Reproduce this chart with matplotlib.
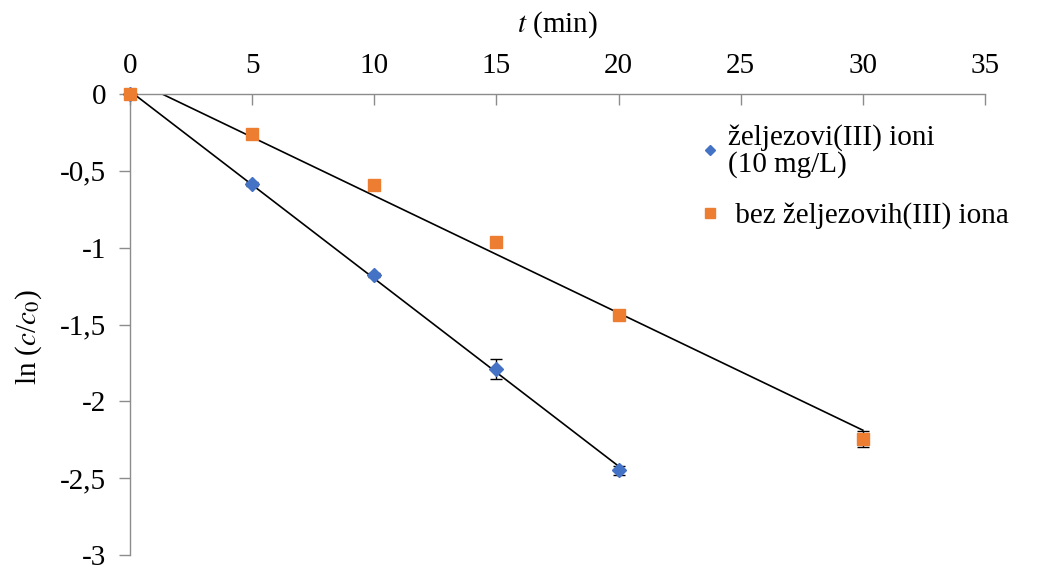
import numpy as np
import matplotlib.pyplot as plt
from matplotlib.ticker import FixedLocator, FixedFormatter

plt.rcParams['font.family'] = ['Liberation Serif', 'DejaVu Serif']
plt.rcParams['mathtext.fontset'] = 'stix'

# data
t_fe = [0, 5, 10, 15, 20]
ln_fe = [0, -0.587, -1.18, -1.79, -2.45]
err_fe = [0, 0.012, 0.012, 0.065, 0.03]

t_bez = [0, 5, 10, 15, 20, 30]
ln_bez = [0, -0.26, -0.59, -0.965, -1.44, -2.245]
err_bez = [0, 0.0, 0.0, 0.0, 0.0, 0.05]

x_ticks = [0, 5, 10, 15, 20, 25, 30, 35]
y_ticks = [0, -0.5, -1, -1.5, -2, -2.5, -3]
y_labels = ['0', '-0,5', '-1', '-1,5', '-2', '-2,5', '-3']

label_fe = 'željezovi(III) ioni\n(10 mg/L)'
label_bez = ' bez željezovih(III) iona'

blue = '#4472C4'
orange = '#ED7D31'
grey = '#8c8c8c'

fig = plt.figure(figsize=(10.48, 5.68), dpi=100)
ax = fig.add_axes([130/1048, 1 - 555/568, 855/1048, 461/568])

# linear trendlines (least squares), clipped by the axes
for t, y in [(t_fe, ln_fe), (t_bez, ln_bez)]:
    k, n = np.polyfit(t, y, 1)
    xx = np.array([min(t), max(t)])
    ax.plot(xx, k * xx + n, color='black', lw=1.2, zorder=2)

ax.errorbar(t_fe, ln_fe, yerr=err_fe, fmt='none', ecolor='black', elinewidth=1,
            capsize=4, zorder=3, clip_on=False)
ax.errorbar(t_bez, ln_bez, yerr=err_bez, fmt='none', ecolor='black', elinewidth=1,
            capsize=4, zorder=3, clip_on=False)
h1, = ax.plot(t_fe, ln_fe, 'D', color=blue, ms=7, ls='none', zorder=4, clip_on=False)
h2, = ax.plot(t_bez, ln_bez, 's', color=orange, ms=9, ls='none', zorder=4, clip_on=False)

ax.set_xlim(0, 35)
ax.set_ylim(-3, 0)

ax.xaxis.tick_top()
ax.xaxis.set_label_position('top')
ax.set_xticks(x_ticks)
ax.yaxis.set_major_locator(FixedLocator(y_ticks))
ax.yaxis.set_major_formatter(FixedFormatter(y_labels))

ax.tick_params(axis='x', direction='in', length=8, width=1, color=grey,
               labelsize=21, pad=11)
ax.tick_params(axis='y', direction='out', length=8, width=1, color=grey,
               labelsize=21, pad=9)

for s in ['bottom', 'right']:
    ax.spines[s].set_visible(False)
for s in ['top', 'left']:
    ax.spines[s].set_color(grey)
    ax.spines[s].set_linewidth(1)

ax.set_xlabel(r'$t$ (min)', fontsize=21, labelpad=15)
ax.set_ylabel(r'ln ($c$/$c_0$)', fontsize=21)
ax.yaxis.set_label_coords(-0.101, 0.473)

leg = fig.legend([h1, h2], [label_fe, label_bez], loc='upper left',
                 bbox_to_anchor=(690/1048, 1 - 112/568), frameon=False, fontsize=21,
                 handlelength=0.6, handletextpad=0.3, labelspacing=0.85,
                 borderaxespad=0, markerscale=0.8)
for txt in leg.get_texts():
    txt.set_linespacing(1.0)

fig.savefig('out.png', dpi=100)
